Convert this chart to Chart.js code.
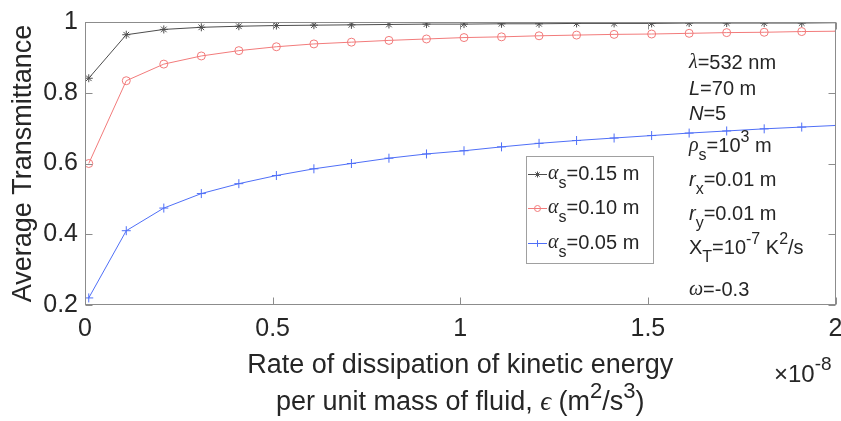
<!DOCTYPE html>
<html>
<head>
<meta charset="utf-8">
<script src="https://cdn.jsdelivr.net/npm/chart.js@4.4.1/dist/chart.umd.min.js"></script>
<style>
  html, body { margin: 0; padding: 0; background: #fff; }
  #wrap { width: 841px; height: 421px; position: relative; }
</style>
</head>
<body>
<div id="wrap"><canvas id="chart" width="841" height="421"></canvas></div>
<script>
// dissipation rate epsilon, in units of 1e-8 m^2/s^3 (last point sits past the axis end)
const epsValues = [0.01, 0.11, 0.21, 0.31, 0.41, 0.51, 0.61, 0.71, 0.81, 0.91, 1.01,
  1.11, 1.21, 1.31, 1.41, 1.51, 1.61, 1.71, 1.81, 1.91, 2.01];
// average transmittance for each aperture alpha_s
const transAlpha015 = [0.841, 0.964, 0.979, 0.985, 0.988, 0.990, 0.991, 0.992, 0.993, 0.994, 0.994,
  0.995, 0.995, 0.996, 0.996, 0.996, 0.997, 0.997, 0.997, 0.997, 0.998];
const transAlpha010 = [0.600, 0.834, 0.881, 0.904, 0.919, 0.930, 0.938, 0.943, 0.948, 0.952, 0.956,
  0.958, 0.961, 0.963, 0.965, 0.966, 0.968, 0.970, 0.971, 0.973, 0.974];
const transAlpha005 = [0.220, 0.410, 0.474, 0.515, 0.543, 0.566, 0.585, 0.600, 0.615, 0.627, 0.636,
  0.647, 0.657, 0.665, 0.672, 0.679, 0.686, 0.692, 0.698, 0.703, 0.708];
const alphaLabels = ['=0.15 m', '=0.10 m', '=0.05 m'];
const xTickValues = [0, 0.5, 1, 1.5, 2];
const yTickValues = [0.2, 0.4, 0.6, 0.8, 1];

// parameter block text (k: g = greek italic, it = italic, sub / sup = scripts)
const paramLines = [
  [{t: 'λ', k: 'g'}, {t: '=532 nm'}],
  [{t: 'L', k: 'it'}, {t: '=70 m'}],
  [{t: 'N', k: 'it'}, {t: '=5'}],
  [{t: 'ρ', k: 'g'}, {t: 's', k: 'sub'}, {t: '=10'}, {t: '3', k: 'sup'}, {t: ' m'}],
  [{t: 'r', k: 'it'}, {t: 'x', k: 'sub'}, {t: '=0.01 m'}],
  [{t: 'r', k: 'it'}, {t: 'y', k: 'sub'}, {t: '=0.01 m'}],
  [{t: 'X'}, {t: 'T', k: 'sub'}, {t: '=10'}, {t: '-7', k: 'sup'}, {t: ' K'}, {t: '2', k: 'sup'}, {t: '/s'}],
  [{t: 'ω', k: 'g'}, {t: '=-0.3'}]
];

const SANS = "'Liberation Sans', Arial, Helvetica, sans-serif";
const SERIF = "'Liberation Serif', 'DejaVu Serif', serif";
const AXIS_COLOR = '#8c8c8c';

const toPoints = (ys) => ys.map((y, i) => ({x: epsValues[i], y}));

function setPartFont(ctx, p, size) {
  if (p.k === 'g') ctx.font = `italic ${size}px ${SERIF}`;
  else if (p.k === 'it') ctx.font = `italic ${size}px ${SANS}`;
  else if (p.k === 'sub' || p.k === 'sup') ctx.font = `${Math.round(size * 0.8)}px ${SANS}`;
  else ctx.font = `${size}px ${SANS}`;
}

function drawRich(ctx, x, y, parts, size) {
  parts.forEach((p) => {
    let dy = 0;
    if (p.k === 'sub') dy = size * 0.5;
    if (p.k === 'sup') dy = -size * 0.42;
    setPartFont(ctx, p, size);
    ctx.fillText(p.t, x, y + dy);
    x += ctx.measureText(p.t).width;
  });
  return x;
}

function richWidth(ctx, parts, size) {
  let w = 0;
  parts.forEach((p) => {
    setPartFont(ctx, p, size);
    w += ctx.measureText(p.t).width;
  });
  return w;
}

// box, inward ticks, titles, legend and parameter text (MATLAB look)
const decorPlugin = {
  id: 'decor',
  afterDatasetsDraw(chart) {
    const {ctx, chartArea: a, scales} = chart;
    ctx.save();
    ctx.strokeStyle = AXIS_COLOR;
    ctx.lineWidth = 1;
    const L = Math.round(a.left) + 0.5, R = Math.round(a.right) - 0.5;
    const T = Math.round(a.top) + 0.5, B = Math.round(a.bottom) - 0.5;
    ctx.strokeRect(L, T, R - L, B - T);
    const tl = 7;
    ctx.beginPath();
    xTickValues.forEach((v) => {
      const px = Math.round(scales.x.getPixelForValue(v)) + 0.5;
      ctx.moveTo(px, B); ctx.lineTo(px, B - tl);
      ctx.moveTo(px, T); ctx.lineTo(px, T + tl);
    });
    yTickValues.forEach((v) => {
      const py = Math.round(scales.y.getPixelForValue(v)) + 0.5;
      ctx.moveTo(L, py); ctx.lineTo(L + tl, py);
      ctx.moveTo(R, py); ctx.lineTo(R - tl, py);
    });
    ctx.stroke();

    // legend
    const lx = 526, ly = 156, lw = 127, lh = 107;
    ctx.fillStyle = '#fff';
    ctx.fillRect(lx, ly, lw, lh);
    ctx.strokeStyle = '#a0a0a0';
    ctx.strokeRect(lx + 0.5, ly + 0.5, lw, lh);
    const rows = [174, 208, 243];
    chart.data.datasets.forEach((ds, i) => {
      const y = rows[i];
      ctx.strokeStyle = ds.borderColor;
      ctx.fillStyle = ds.backgroundColor;
      ctx.lineWidth = 1;
      ctx.beginPath(); ctx.moveTo(528, y + 0.5); ctx.lineTo(547, y + 0.5); ctx.stroke();
      Chart.helpers.drawPoint(ctx, {
        pointStyle: ds.pointStyle, radius: ds.pointRadius * 0.75, rotation: 0,
        borderWidth: 1
      }, 537.5, y + 0.5);
      ctx.fillStyle = '#262626';
      ctx.textBaseline = 'middle';
      ctx.textAlign = 'left';
      drawRich(ctx, 548, y, [{t: 'α', k: 'g'}, {t: 's', k: 'sub'}, {t: alphaLabels[i]}], 20);
    });

    // parameter block
    const rowsY = [63, 89, 114, 146, 180, 214, 248, 290];
    ctx.fillStyle = '#262626';
    paramLines.forEach((parts, i) => drawRich(ctx, 689, rowsY[i], parts, 20));

    // axis titles
    ctx.textAlign = 'left';
    ctx.textBaseline = 'middle';
    const cx = (a.left + a.right) / 2;
    ctx.font = `27px ${SANS}`;
    const line1 = 'Rate of dissipation of kinetic energy';
    ctx.fillText(line1, cx - ctx.measureText(line1).width / 2, 366);
    const line2 = [{t: 'per unit mass of fluid, '}, {t: 'ϵ', k: 'g'}, {t: ' (m'}, {t: '2', k: 'sup'},
      {t: '/s'}, {t: '3', k: 'sup'}, {t: ')'}];
    drawRich(ctx, cx - richWidth(ctx, line2, 27) / 2, 403, line2, 27);

    ctx.save();
    ctx.translate(24, (a.top + a.bottom) / 2);
    ctx.rotate(-Math.PI / 2);
    ctx.textAlign = 'center';
    ctx.font = `27px ${SANS}`;
    ctx.fillText('Average Transmittance', 0, 0);
    ctx.restore();

    // exponent label
    ctx.textAlign = 'left';
    drawRich(ctx, 774, 375, [{t: '×10'}, {t: '-8', k: 'sup'}], 24);
    ctx.restore();
  }
};

new Chart(document.getElementById('chart'), {
  type: 'line',
  data: {
    datasets: [
      {
        label: 'alpha_s=0.15 m', data: toPoints(transAlpha015),
        borderColor: '#4d4d4d', backgroundColor: '#4d4d4d', borderWidth: 1,
        pointStyle: 'star', pointRadius: 4, pointBorderWidth: 1
      },
      {
        label: 'alpha_s=0.10 m', data: toPoints(transAlpha010),
        borderColor: '#f27b7b', backgroundColor: 'rgba(0,0,0,0)', borderWidth: 1,
        pointStyle: 'circle', pointRadius: 4, pointBorderWidth: 1
      },
      {
        label: 'alpha_s=0.05 m', data: toPoints(transAlpha005),
        borderColor: '#4f6ff7', backgroundColor: '#4f6ff7', borderWidth: 1,
        pointStyle: 'cross', pointRadius: 4.5, pointBorderWidth: 1
      }
    ]
  },
  options: {
    responsive: false,
    animation: false,
    layout: {padding: {left: 0, right: 3, top: 19, bottom: 0}},
    plugins: {legend: {display: false}, tooltip: {enabled: false}},
    scales: {
      x: {
        type: 'linear', min: 0, max: 2,
        grid: {display: false, drawTicks: false},
        border: {display: false},
        afterBuildTicks: (s) => { s.ticks = xTickValues.map((v) => ({value: v})); },
        afterFit: (s) => { s.height = 116; s.paddingLeft = 0; s.paddingRight = 0; },
        ticks: {
          padding: 9, color: '#262626', maxRotation: 0, autoSkip: false,
          font: {family: SANS, size: 25},
          callback: (v) => String(v)
        }
      },
      y: {
        min: 0.2, max: 1,
        grid: {display: false, drawTicks: false},
        border: {display: false},
        afterBuildTicks: (s) => { s.ticks = yTickValues.map((v) => ({value: v})); },
        afterFit: (s) => { s.width = 85; },
        ticks: {
          padding: 7, color: '#262626',
          font: {family: SANS, size: 25},
          callback: (v) => String(v)
        }
      }
    }
  },
  plugins: [decorPlugin]
});
</script>
</body>
</html>
